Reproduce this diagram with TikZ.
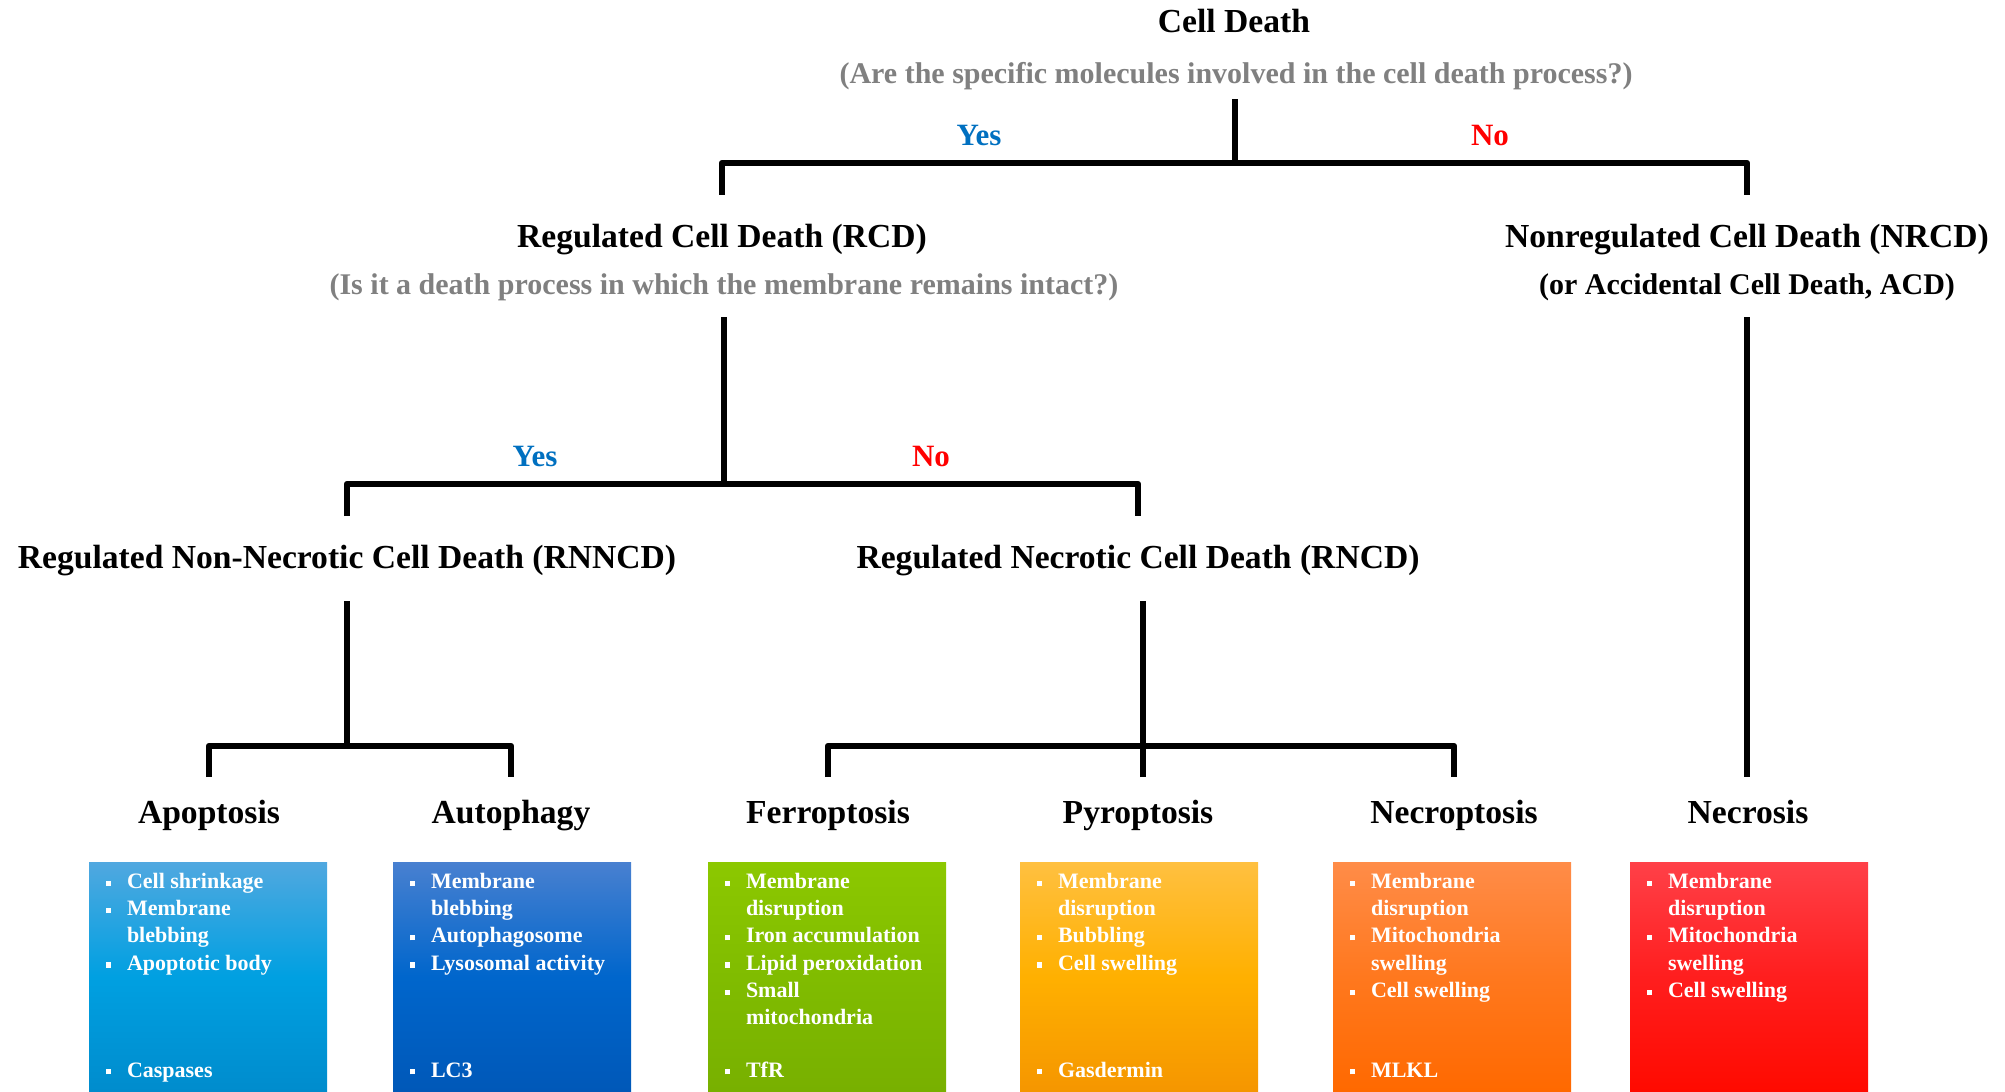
\documentclass[tikz,border=0pt]{standalone}
\usepackage{fontspec}
\setmainfont{Liberation Serif}
\usepackage{xcolor}
\usepackage{tikz}

\definecolor{yescol}{RGB}{0,112,192}
\definecolor{nocol}{RGB}{255,0,0}
\definecolor{askcol}{RGB}{128,128,128}

\newcommand{\bsq}{\raisebox{0.25ex}{\rule{2.6pt}{2.6pt}}}

\tikzset{
  title/.style={font=\fontsize{16.8}{19}\selectfont\bfseries, inner sep=0pt, anchor=base},
  ask/.style={font=\fontsize{15}{18}\selectfont\bfseries, text=askcol, inner sep=0pt, anchor=base},
  yes/.style={font=\fontsize{15.5}{18}\selectfont\bfseries, text=yescol, inner sep=0pt, anchor=base},
  no/.style={font=\fontsize{15.5}{18}\selectfont\bfseries, text=nocol, inner sep=0pt, anchor=base},
  link/.style={line width=3.2pt, line cap=butt, line join=round},
  leafbox/.style={minimum width=119pt, minimum height=114.5pt, anchor=north, inner sep=0pt},
  boxtext/.style={font=\fontsize{11}{13.6}\selectfont\bfseries, text=white, inner sep=0pt, align=left},
}

\begin{document}
\begin{tikzpicture}[x=0.5pt, y=-0.5pt]
	\useasboundingbox (0,0) rectangle (2005,1091);
	% top level
	\node[title] (celldeath) at (1234, 33) {Cell Death};
	\node[ask] (ask1) at (1236, 84) {(Are the specific molecules involved in the cell death process?)};
	\node[yes] (yes1) at (979, 146) {Yes};
	\node[no] (no1) at (1490, 146) {No};
	\node[title] (rcd) at (722, 248) {Regulated Cell Death (RCD)};
	\node[ask] (ask2) at (724, 294) {(Is it a death process in which the membrane remains intact?)};
	\node[title] (nrcd) at (1747, 248) {Nonregulated Cell Death (NRCD)};
	\node[title, font=\fontsize{15}{18}\selectfont\bfseries] (acd) at (1747, 294) {(or Accidental Cell Death, ACD)};
	\node[yes] (yes2) at (535, 466) {Yes};
	\node[no] (no2) at (931, 466) {No};
	\node[title] (rnncd) at (347, 568) {Regulated Non-Necrotic Cell Death (RNNCD)};
	\node[title] (rncd) at (1138, 568) {Regulated Necrotic Cell Death (RNCD)};
	% leaves
	\node[title] (apo) at (209, 823) {Apoptosis};
	\node[title] (aut) at (511, 823) {Autophagy};
	\node[title] (fer) at (828, 823) {Ferroptosis};
	\node[title] (pyr) at (1138, 823) {Pyroptosis};
	\node[title] (nct) at (1454, 823) {Necroptosis};
	\node[title] (ncs) at (1748, 823) {Necrosis};
	% joints
	\coordinate (j1) at (1235, 163);
	\coordinate (j2) at (724, 484);
	\coordinate (j3) at (347, 746);
	\coordinate (j4) at (1143, 746);
	% connectors
	\draw[link] (j1) -- (j1 |- 0,99);
	\draw[link] (rcd |- 0,195) -- (rcd |- j1) -- (nrcd |- j1) -- (nrcd |- 0,195);
	\draw[link] (j2) -- (j2 |- 0,317);
	\draw[link] (rnncd |- 0,516) -- (rnncd |- j2) -- (rncd |- j2) -- (rncd |- 0,516);
	\draw[link] (nrcd |- 0,317) -- (nrcd |- 0,777);
	\draw[link] (j3) -- (j3 |- 0,601);
	\draw[link] (apo |- 0,777) -- (apo |- j3) -- (aut |- j3) -- (aut |- 0,777);
	\draw[link] (j4 |- 0,777) -- (j4 |- 0,601);
	\draw[link] (fer |- 0,777) -- (fer |- j4) -- (nct |- j4) -- (nct |- 0,777);
	% boxes
	\node[leafbox, top color={rgb,255:red,80;green,168;blue,224}, bottom color={rgb,255:red,0;green,140;blue,205}, middle color={rgb,255:red,0;green,160;blue,225}] (apobox) at (208, 862) {};
	\node[leafbox, top color={rgb,255:red,72;green,128;blue,208}, bottom color={rgb,255:red,0;green,88;blue,184}, middle color={rgb,255:red,0;green,102;blue,204}] (autbox) at (512, 862) {};
	\node[leafbox, top color={rgb,255:red,140;green,200;blue,0}, bottom color={rgb,255:red,120;green,176;blue,0}, middle color={rgb,255:red,128;green,188;blue,0}] (ferbox) at (827, 862) {};
	\node[leafbox, top color={rgb,255:red,255;green,192;blue,64}, bottom color={rgb,255:red,245;green,150;blue,0}, middle color={rgb,255:red,255;green,176;blue,0}] (pyrbox) at (1139, 862) {};
	\node[leafbox, top color={rgb,255:red,255;green,140;blue,72}, bottom color={rgb,255:red,255;green,105;blue,0}, middle color={rgb,255:red,255;green,120;blue,30}] (nctbox) at (1452, 862) {};
	\node[leafbox, top color={rgb,255:red,255;green,64;blue,72}, bottom color={rgb,255:red,255;green,10;blue,0}, middle color={rgb,255:red,255;green,30;blue,30}] (ncsbox) at (1749, 862) {};
	% box texts
	\node[boxtext, anchor=north west, xshift=8.5pt, yshift=-3.5pt] (apolist) at (apobox.north west) {\begin{tabular}{@{}l@{\hspace{7.9pt}}l@{}}\bsq & Cell shrinkage\\ \bsq & Membrane\\ & blebbing\\ \bsq & Apoptotic body\end{tabular}};
	\node[boxtext, anchor=north west, xshift=8.5pt, yshift=-3.5pt] (autlist) at (autbox.north west) {\begin{tabular}{@{}l@{\hspace{7.9pt}}l@{}}\bsq & Membrane\\ & blebbing\\ \bsq & Autophagosome\\ \bsq & Lysosomal activity\end{tabular}};
	\node[boxtext, anchor=north west, xshift=8.5pt, yshift=-3.5pt] (ferlist) at (ferbox.north west) {\begin{tabular}{@{}l@{\hspace{7.9pt}}l@{}}\bsq & Membrane\\ & disruption\\ \bsq & Iron accumulation\\ \bsq & Lipid peroxidation\\ \bsq & Small\\ & mitochondria\end{tabular}};
	\node[boxtext, anchor=north west, xshift=8.5pt, yshift=-3.5pt] (pyrlist) at (pyrbox.north west) {\begin{tabular}{@{}l@{\hspace{7.9pt}}l@{}}\bsq & Membrane\\ & disruption\\ \bsq & Bubbling\\ \bsq & Cell swelling\end{tabular}};
	\node[boxtext, anchor=north west, xshift=8.5pt, yshift=-3.5pt] (nctlist) at (nctbox.north west) {\begin{tabular}{@{}l@{\hspace{7.9pt}}l@{}}\bsq & Membrane\\ & disruption\\ \bsq & Mitochondria\\ & swelling\\ \bsq & Cell swelling\end{tabular}};
	\node[boxtext, anchor=north west, xshift=8.5pt, yshift=-3.5pt] (ncslist) at (ncsbox.north west) {\begin{tabular}{@{}l@{\hspace{7.9pt}}l@{}}\bsq & Membrane\\ & disruption\\ \bsq & Mitochondria\\ & swelling\\ \bsq & Cell swelling\end{tabular}};
	% markers
	\node[boxtext, anchor=base west] (apomark) at (apobox.west |- 0,1077) {\hspace{8.5pt}\bsq\hspace{7.9pt}Caspases};
	\node[boxtext, anchor=base west] (autmark) at (autbox.west |- 0,1077) {\hspace{8.5pt}\bsq\hspace{7.9pt}LC3};
	\node[boxtext, anchor=base west] (fermark) at (ferbox.west |- 0,1077) {\hspace{8.5pt}\bsq\hspace{7.9pt}TfR};
	\node[boxtext, anchor=base west] (pyrmark) at (pyrbox.west |- 0,1077) {\hspace{8.5pt}\bsq\hspace{7.9pt}Gasdermin};
	\node[boxtext, anchor=base west] (nctmark) at (nctbox.west |- 0,1077) {\hspace{8.5pt}\bsq\hspace{7.9pt}MLKL};
\end{tikzpicture}
\end{document}
